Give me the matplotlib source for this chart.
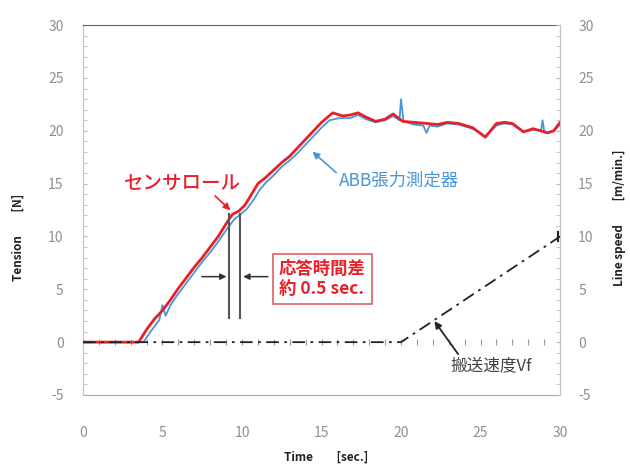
import numpy as np
import matplotlib
matplotlib.use('Agg')
import matplotlib.pyplot as plt
from matplotlib.ticker import MultipleLocator

plt.rcParams['font.family'] = ['Noto Sans CJK JP', 'DejaVu Sans']
plt.rcParams['axes.unicode_minus'] = False

# センサロール (red)
t_red = [0, 3.5, 4.0, 4.5, 5.0, 5.5, 6.0, 6.5, 7.0, 7.5, 8.0, 8.5, 9.0, 9.4, 9.8,
         10.2, 10.6, 11.0, 11.5, 12.0, 12.5, 13.0, 13.5, 14.0, 14.5, 15.0, 15.7,
         16.35, 16.8, 17.3, 17.8, 18.4, 19.0, 19.5, 20.1, 20.8, 21.6, 22.3, 22.9,
         23.6, 24.5, 25.3, 26.0, 26.5, 27.0, 27.7, 28.3, 28.8, 29.2, 29.6, 30.0]
v_red = [0, 0, 1.2, 2.2, 3.0, 4.0, 5.1, 6.1, 7.1, 8.0, 9.0, 10.0, 11.2, 12.1, 12.4,
         13.0, 14.0, 15.0, 15.6, 16.3, 17.0, 17.6, 18.4, 19.2, 20.0, 20.8, 21.7,
         21.4, 21.5, 21.7, 21.3, 20.9, 21.1, 21.6, 20.9, 20.8, 20.7, 20.6, 20.8,
         20.7, 20.3, 19.4, 20.7, 20.8, 20.7, 19.9, 20.2, 20.0, 19.8, 20.0, 20.8]

# ABB張力測定器 (blue)
t_blue = [0, 3.8, 4.3, 4.8, 5.0, 5.2, 5.5, 6.0, 6.5, 7.0, 7.5, 8.0, 8.5, 9.0, 9.5,
          9.9, 10.3, 10.7, 11.1, 11.5, 12.0, 12.5, 13.0, 13.5, 14.0, 14.5, 15.0,
          15.5, 16.1, 16.8, 17.3, 17.8, 18.4, 19.0, 19.5, 19.9, 20.0, 20.15, 20.8,
          21.4, 21.6, 21.8, 22.3, 22.9, 23.6, 24.5, 25.3, 26.0, 26.5, 27.0, 27.7,
          28.3, 28.8, 28.9, 29.0, 29.2, 29.6, 30.0]
v_blue = [0, 0, 1.1, 2.1, 3.5, 2.5, 3.5, 4.6, 5.6, 6.6, 7.6, 8.5, 9.5, 10.6, 11.6,
          12.1, 12.6, 13.4, 14.4, 15.1, 15.8, 16.6, 17.2, 17.9, 18.7, 19.5, 20.3,
          21.0, 21.2, 21.2, 21.5, 21.1, 20.8, 21.0, 21.4, 21.0, 23.0, 20.9, 20.6,
          20.5, 19.8, 20.5, 20.4, 20.7, 20.6, 20.2, 19.5, 20.5, 20.7, 20.6, 19.9,
          20.1, 20.0, 21.0, 20.0, 19.8, 20.0, 20.6]

# 搬送速度Vf
t_speed = [0, 20, 30]
v_speed = [0, 0, 10]

ticks = list(range(-5, 31, 5))
xticks = list(range(0, 31, 5))

fig = plt.figure(figsize=(6.3, 4.66), dpi=100)
ax = fig.add_axes([0.1317, 0.1524, 0.7573, 0.7936])

red = '#e8202a'
blue = '#4a95d6'
gray_txt = '#8f8f8f'

ax.plot(t_blue, v_blue, color=blue, lw=1.3, zorder=3)
ax.plot(t_red, v_red, color=red, lw=2.0, zorder=4)

ax.set_xlim(0, 30)
ax.set_ylim(-5, 30)
ax.set_xticks(xticks)
ax.set_yticks(ticks)
ax.yaxis.set_minor_locator(MultipleLocator(1))
ax.tick_params(axis='y', which='both', direction='in', length=3, color='#bbbbbb',
               labelcolor=gray_txt, labelsize=10, pad=14)
ax.tick_params(axis='x', length=0, labelcolor=gray_txt, labelsize=10, pad=22)

ax.spines['top'].set_color('#666666')
ax.spines['left'].set_color('#c4c4c4')
ax.spines['right'].set_color('#c4c4c4')
ax.spines['bottom'].set_color('#aaaaaa')

# tick marks along y=0
sec = ax.secondary_xaxis(5 / 35)
sec.set_xticks(np.arange(0, 31, 1))
sec.tick_params(direction='inout', length=5, color='#999999', labelbottom=False,
                labeltop=False)
sec.spines['bottom'].set_visible(False)
sec.spines['top'].set_visible(False)

ax2 = ax.twinx()
ax2.set_ylim(-5, 30)
ax2.set_yticks(ticks)
ax2.yaxis.set_minor_locator(MultipleLocator(1))
ax2.tick_params(axis='y', which='both', direction='in', length=3, color='#bbbbbb',
                labelcolor=gray_txt, labelsize=10, pad=13)
ax2.spines['right'].set_color('#c4c4c4')
ax2.spines['top'].set_visible(False)
ax2.spines['left'].set_visible(False)
ax2.spines['bottom'].set_visible(False)
ax2.plot(t_speed, v_speed, color='#222222', lw=1.3, dashes=[7, 3, 1.5, 3], zorder=5)
ax2.plot([29.9, 29.9], [9.6, 10.4], color='#222222', lw=1.5)

# 応答時間差
ax.plot([9.2, 9.2], [2.3, 12.1], color='#555555', lw=1.5, zorder=5)
ax.plot([9.9, 9.9], [2.3, 12.1], color='#555555', lw=1.5, zorder=5)
ax.annotate('', xy=(9.2, 6.2), xytext=(7.3, 6.2),
            arrowprops=dict(arrowstyle='-|>', color='#333333', lw=1.1, mutation_scale=9))
ax.annotate('', xy=(9.9, 6.2), xytext=(11.8, 6.2),
            arrowprops=dict(arrowstyle='-|>', color='#333333', lw=1.1, mutation_scale=9))
ax.text(12.3, 6.0, '応答時間差\n約 0.5 sec.', color=red, fontsize=12.5, fontweight='bold',
        va='center', ha='left', linespacing=1.15,
        bbox=dict(boxstyle='square,pad=0.35', fc='white', ec='#e06060', lw=1.2))

ax.annotate('センサロール', xy=(9.4, 12.3), xytext=(2.6, 15.0), color=red,
            fontsize=14, fontweight='medium', va='center', ha='left',
            arrowprops=dict(arrowstyle='-|>', color=red, lw=1.2, mutation_scale=10,
                            shrinkA=0, relpos=(0.75, 0)))
ax.annotate('ABB張力測定器', xy=(14.3, 18.2), xytext=(16.1, 15.3), color=blue,
            fontsize=12.5, va='center', ha='left',
            arrowprops=dict(arrowstyle='-|>', color=blue, lw=1.2, mutation_scale=10,
                            shrinkA=0, relpos=(0, 0.8)))
ax.annotate('搬送速度Vf', xy=(22.0, 2.2), xytext=(23.1, -2.2), color='#444444',
            fontsize=12, va='center', ha='left',
            arrowprops=dict(arrowstyle='-|>', color='#222222', lw=1.3, mutation_scale=10,
                            shrinkA=0, relpos=(0.12, 1)))

fig.text(0.029, 0.491, 'Tension　　[N]', rotation=90, ha='center', va='center',
         fontsize=8.5, fontweight='bold', color='#222222')
fig.text(0.984, 0.532, 'Line speed　　[m/min.]', rotation=90, ha='center', va='center',
         fontsize=8.5, fontweight='bold', color='#222222')
fig.text(0.517, 0.02, 'Time　　[sec.]', ha='center', va='center',
         fontsize=8.5, fontweight='bold', color='#222222')

fig.savefig('out.png', dpi=100, facecolor='white')
